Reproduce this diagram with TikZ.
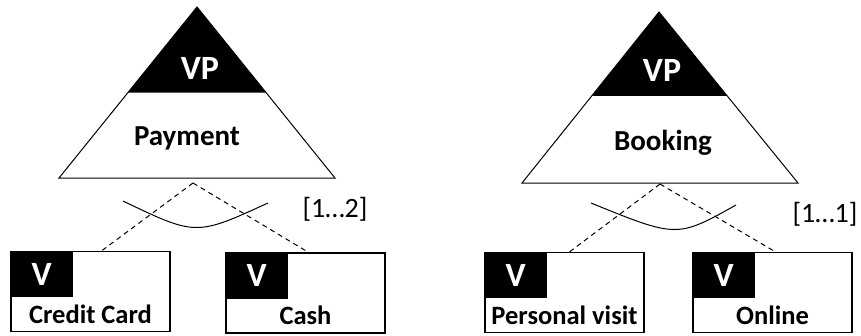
\documentclass[tikz,border=0pt]{standalone}
\usepackage{fontspec}
\setmainfont{Carlito}
\usetikzlibrary{positioning,calc}

\begin{document}
\begin{tikzpicture}[x=1pt,y=-1pt,
	varbox/.style={rectangle,draw,line width=1.2pt,minimum width=159pt,minimum height=80pt,inner sep=0pt},
	vtag/.style={rectangle,fill=black,text=white,minimum width=62pt,minimum height=46pt,inner sep=0pt,anchor=north west,font=\bfseries\fontsize{34}{38}\selectfont},
	vname/.style={anchor=base,inner sep=0pt,font=\bfseries\fontsize{26.5}{30}\selectfont},
	vptext/.style={inner sep=0pt,font=\bfseries\fontsize{34}{38}\selectfont},
	vplabel/.style={inner sep=0pt,font=\bfseries\fontsize{29}{33}\selectfont},
	card/.style={inner sep=0pt,font=\fontsize{28}{32}\selectfont},
	link/.style={line width=1pt,dash pattern=on 5pt off 4pt}]
	\useasboundingbox (0,0) rectangle (861,335);

	% variation point Payment
	\coordinate (PayTop) at (197,7);
	\coordinate (PayL) at (59,178);
	\coordinate (PayR) at (335,178);
	\fill ($(PayTop)!0.5!(PayL)$) -- (PayTop) -- ($(PayTop)!0.5!(PayR)$) -- cycle;
	\draw[line width=1pt] (PayTop) -- (PayR) -- (PayL) -- cycle;
	\node[vptext,text=white] (PayVP) at (200,68) {VP};
	\node[vplabel] (Pay) at (187,138) {Payment};
	\coordinate (PayJ) at (193,183);

	\node[varbox] (Credit) at (90.5,291.5) {};
	\node[vtag] (CreditV) at (Credit.north west) {V};
	\node[vname] (CreditT) at ([yshift=9pt]Credit.south) {Credit Card};

	\node[varbox] (Cash) at (305.5,293) {};
	\node[vtag] (CashV) at (Cash.north west) {V};
	\node[vname] (CashT) at ([yshift=9pt]Cash.south) {Cash};

	\draw[link] (PayJ) -- ([xshift=11pt]Credit.north);
	\draw[link] (PayJ) -- ([xshift=3pt]Cash.north);
	\draw[line width=1pt] (123,201) .. controls (196,236) .. (268,203);
	\node[card] (PayCard) at (335,209) {[1…2]};

	% variation point Booking
	\coordinate (BookTop) at (659,12);
	\coordinate (BookL) at (522,183);
	\coordinate (BookR) at (798,183);
	\fill ($(BookTop)!0.49!(BookL)$) -- (BookTop) -- ($(BookTop)!0.49!(BookR)$) -- cycle;
	\draw[line width=1pt] (BookTop) -- (BookR) -- (BookL) -- cycle;
	\node[vptext,text=white] (BookVP) at (662,70) {VP};
	\node[vplabel] (Book) at (663,143) {Booking};
	\coordinate (BookJ) at (660,184);

	\node[varbox] (Visit) at (564.5,292.5) {};
	\node[vtag] (VisitV) at (Visit.north west) {V};
	\node[vname] (VisitT) at ([yshift=9pt]Visit.south) {Personal visit};

	\node[varbox] (Online) at (772.5,292.5) {};
	\node[vtag] (OnlineV) at (Online.north west) {V};
	\node[vname] (OnlineT) at ([yshift=9pt]Online.south) {Online};

	\draw[link] (BookJ) -- ([xshift=5pt]Visit.north);
	\draw[link] (BookJ) -- ([xshift=3pt]Online.north);
	\draw[line width=1pt] (591,203) .. controls (677,238) .. (736,205);
	\node[card] (BookCard) at (825,214) {[1…1]};
\end{tikzpicture}
\end{document}
